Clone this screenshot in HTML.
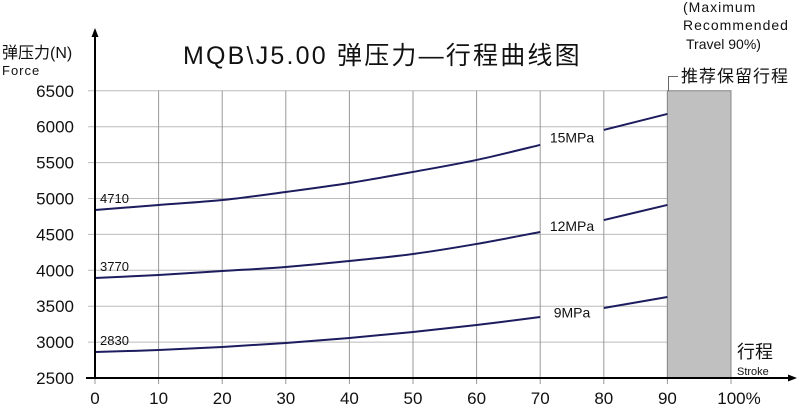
<!DOCTYPE html>
<html><head><meta charset="utf-8"><style>
body{margin:0;background:#fff}
svg text{font-family:"Liberation Sans","Noto Sans CJK SC",sans-serif;fill:#111}
</style></head><body>
<svg id="chart" width="800" height="406" viewBox="0 0 800 406" xmlns="http://www.w3.org/2000/svg">
<g id="grid"></g>
<rect id="reserve" fill="#c0c0c0" stroke="#888" stroke-width="1"/>
<path d="M668.5 91 V76.5 H678" stroke="#666" fill="none"/>
<text x="681" y="82" font-size="17" letter-spacing="1">推荐保留行程</text>
<text x="683" y="12" font-size="14" letter-spacing="1">(Maximum</text>
<text x="683" y="30" font-size="14" letter-spacing="1">Recommended</text>
<text x="686" y="49" font-size="14">Travel 90%)</text>
<text x="183" y="64" font-size="25" letter-spacing="2.2">MQB\J5.00 弹压力—行程曲线图</text>
<text x="2" y="58" font-size="16">弹压力(N)</text>
<text x="2" y="75" font-size="13" letter-spacing="1">Force</text>
<text x="737" y="358" font-size="18">行程</text>
<text x="737" y="375" font-size="11">Stroke</text>
<g id="ticks"></g>
<g id="series"></g>
<line x1="95" y1="34" x2="95" y2="379" stroke="#000" stroke-width="2"/>
<path d="M95 28 L91.5 37 L98.5 37 Z" fill="#000"/>
<line x1="86" y1="378" x2="790" y2="378" stroke="#000" stroke-width="2"/>
<path d="M797 378 L788 374.5 L788 381.5 Z" fill="#000"/>
</svg>
<script>
const xTicks=[0,10,20,30,40,50,60,70,80,90,100];
const xTickLabels=["0","10","20","30","40","50","60","70","80","90","100%"];
const yTicks=[2500,3000,3500,4000,4500,5000,5500,6000,6500];
const strokes=[0,10,20,30,40,50,60,70,80,90];
const force15=[4840,4910,4979,5091,5216,5370,5537,5746,5955,6178];
const force12=[3893,3935,3990,4046,4130,4227,4367,4534,4700,4910];
const force9=[2862,2890,2932,2988,3057,3141,3238,3350,3475,3628];
const seriesNames=["15MPa","12MPa","9MPa"];
const startLabels=["4710","3770","2830"];
const reserveRange=[90,100];
const NS="http://www.w3.org/2000/svg";
const xs=v=>95+v*6.36;
const ys=v=>378-(v-2500)*0.0718;
function mk(t,a,p){const e=document.createElementNS(NS,t);for(const k in a)e.setAttribute(k,a[k]);p.appendChild(e);return e;}
const grid=document.getElementById('grid'),ticks=document.getElementById('ticks'),ser=document.getElementById('series');
yTicks.forEach(v=>{
 const l=mk('line',{x1:88,x2:731,y1:ys(v),y2:ys(v),stroke:'#bbb','stroke-width':1},grid);
 
 
 const t=mk('text',{x:74,y:ys(v)+6,'font-size':17,'text-anchor':'end'},ticks);
 t.textContent=v;
 
 
});
xTicks.forEach((v,i)=>{
 const l=mk('line',{x1:xs(v),x2:xs(v),y1:ys(6500),y2:ys(2500)+6,stroke:'#999','stroke-width':1},grid);
 
 
 const t=mk('text',{x:xs(v)+(i==10?8:0),y:404,'font-size':17,'text-anchor':'middle'},ticks);
 t.textContent=xTickLabels[i];
 
 
});
const r=document.getElementById('reserve');
r.setAttribute('x',xs(reserveRange[0]));r.setAttribute('y',ys(6500));
r.setAttribute('width',xs(reserveRange[1])-xs(reserveRange[0]));r.setAttribute('height',ys(2500)-ys(6500));
[force15,force12,force9].forEach((d,si)=>{
 const pts=strokes.map((s,i)=>[xs(s),ys(d[i])]);
 const path=(a)=>{let s='M'+a[0].join(' ');for(let i=1;i<a.length;i++){const p0=a[Math.max(i-2,0)],p1=a[i-1],p2=a[i],p3=a[Math.min(i+1,a.length-1)];s+=` C${p1[0]+(p2[0]-p0[0])/6} ${p1[1]+(p2[1]-p0[1])/6} ${p2[0]-(p3[0]-p1[0])/6} ${p2[1]-(p3[1]-p1[1])/6} ${p2[0]} ${p2[1]}`;}return s;};
 const a=mk('path',{d:path(pts.slice(0,8)),stroke:'#1c1c5e',fill:'none','stroke-width':2},ser);
 
 
 const b=mk('path',{d:path(pts.slice(8)),stroke:'#1c1c5e',fill:'none','stroke-width':2},ser);
 
 
 const lab=mk('text',{x:xs(75),y:(ys(d[7])+ys(d[8]))/2+5,'font-size':14,'text-anchor':'middle'},ser);
 lab.textContent=seriesNames[si];
 
 
 const st=mk('text',{x:100,y:ys(d[0])-7,'font-size':13},ser);
 st.textContent=startLabels[si];
 
 
});
</script>
</body></html>
